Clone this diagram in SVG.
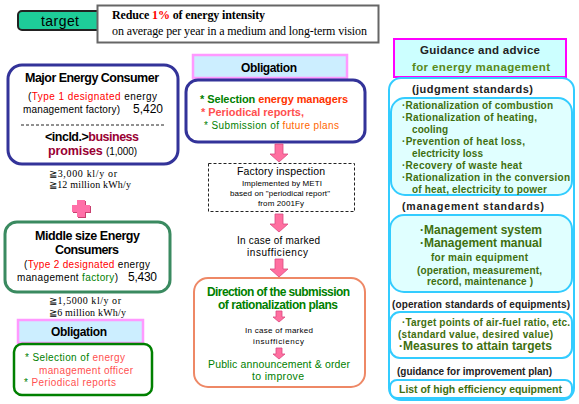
<svg xmlns="http://www.w3.org/2000/svg" width="579" height="404" viewBox="0 0 579 404">
<defs>
<style>
.s{font-family:"Liberation Sans",Arial,sans-serif}
.r{font-family:"Liberation Serif","Times New Roman",serif}
.b{font-weight:bold}
.m{text-anchor:middle}
.g{fill:#008000}
.pr{fill:#FF5050}
.gg{fill:#3F6F0F;font-weight:bold}
.arrow{fill:#FF6FA0;stroke:#D94A80;stroke-width:0.8}
.cy{stroke:#33CCFF;stroke-width:2}
</style>
<path id="arr" d="M-4,0 H4 V10 H9 L0,18 L-9,10 H-4 Z"/>
<path id="arrs" d="M-3,0 H3 V6 H6 L0,11 L-6,6 H-3 Z"/>
</defs>

<g id="target">
<rect x="18" y="11" width="84" height="19" rx="4" fill="#1ECC99" stroke="#222" stroke-width="2"/>
<text x="60" y="25.5" class="s m" font-size="14" textLength="38">target</text>
</g>

<g id="goal">
<rect x="97.5" y="5.5" width="281" height="37" fill="#fff" stroke="#666" stroke-width="2"/>
<text x="112" y="19" class="r b" font-size="12" textLength="153">Reduce <tspan fill="#FF0000">1%</tspan> of energy intensity</text>
<text x="112" y="35" class="r" font-size="12" textLength="255">on average per year in a medium and long-term vision</text>
</g>

<g id="major">
<rect x="8" y="65" width="170" height="99" rx="14" fill="#fff" stroke="#333399" stroke-width="3"/>
<text x="92" y="82" class="s b m" font-size="12.5" textLength="134">Major Energy Consumer</text>
<text x="92.5" y="100" class="s m" font-size="10" textLength="129">(<tspan fill="#FF0000">Type 1 designated</tspan> energy</text>
<text x="23" y="113" class="s" font-size="10" textLength="97">management factory)</text>
<text x="133" y="113" class="s" font-size="12" textLength="30">5,420</text>
<line x1="21" y1="125" x2="165" y2="125" stroke="#222" stroke-dasharray="3,2"/>
<text x="45" y="141" class="s b" font-size="12.5" textLength="94">&lt;incld.&gt;<tspan fill="#990033">business</tspan></text>
<text x="48" y="155" class="s" font-size="12.5" textLength="89"><tspan class="b" fill="#990033">promises</tspan> <tspan font-size="10">(1,000)</tspan></text>
</g>

<g id="major-threshold">
<text x="49" y="177" class="r" font-size="10" textLength="68">≧3,000 kl/y  or</text>
<text x="49" y="188" class="r" font-size="10" textLength="82">≧12 million kWh/y</text>
</g>

<g id="plus">
<path d="M77,200 H85 V205 H90 V212 H85 V217 H77 V212 H72 V205 H77 Z" fill="#C8406F" transform="translate(1,1)"/>
<path d="M77,200 H85 V205 H90 V212 H85 V217 H77 V212 H72 V205 H77 Z" fill="#FF6FA8"/>
</g>

<g id="middle">
<rect x="5" y="222" width="165" height="70" rx="12" fill="#fff" stroke="#3A8A60" stroke-width="3"/>
<text x="35" y="240" class="s b" font-size="12.5" textLength="105">Middle size Energy</text>
<text x="55" y="254" class="s b" font-size="12.5" textLength="64">Consumers</text>
<text x="24" y="268" class="s" font-size="10" textLength="126">(<tspan fill="#FF0000">Type 2 designated</tspan> energy</text>
<text x="17" y="281" class="s" font-size="10" textLength="101">management <tspan fill="#008000">factory</tspan>)</text>
<text x="128" y="281" class="s" font-size="12" textLength="29">5,430</text>
</g>

<g id="middle-threshold">
<text x="49" y="304" class="r" font-size="10" textLength="72">≧1,5000 kl/y  or</text>
<text x="49" y="316" class="r" font-size="10" textLength="77">≧6 million kWh/y</text>
</g>

<g id="obligation-small">
<rect x="18" y="320" width="125" height="23" fill="#CCEEFF" stroke="#FF99FF" stroke-width="2.5"/>
<text x="51" y="336" class="s b" font-size="12" textLength="56">Obligation</text>
</g>

<g id="obligation-small-body">
<rect x="14" y="344" width="138" height="51" rx="8" fill="#fff" stroke="#008000" stroke-width="2.5"/>
<text x="25" y="361" class="s" font-size="10" textLength="100"><tspan fill="#008000">* Selection of </tspan><tspan fill="#FF5050">energy</tspan></text>
<text x="39" y="374" class="s pr" font-size="10" textLength="94">management officer</text>
<text x="24" y="386" class="s" font-size="10" textLength="92"><tspan fill="#008000">* </tspan><tspan fill="#FF5050">Periodical reports</tspan></text>
</g>

<g id="obligation-main">
<rect x="193" y="55" width="154" height="23" fill="#CCEEFF" stroke="#FF99FF" stroke-width="2.5"/>
<text x="241" y="72" class="s b" font-size="12" textLength="56">Obligation</text>
</g>

<g id="obligation-main-body">
<rect x="186" y="80" width="179" height="62" rx="12" fill="#fff" stroke="#333399" stroke-width="3"/>
<text x="200" y="103" class="s b" font-size="11" textLength="148"><tspan fill="#008000">* Selection </tspan><tspan fill="#FF3300">energy managers</tspan></text>
<text x="201" y="116" class="s b" font-size="11" fill="#FF5050" textLength="103">* Periodical reports,</text>
<text x="204" y="129" class="s" font-size="10" textLength="135"><tspan fill="#008000">* Submission of </tspan><tspan fill="#FF6600">future plans</tspan></text>
</g>

<g id="inspection">
<rect x="208.5" y="163.5" width="146" height="48" fill="#fff" stroke="#222" stroke-dasharray="3,2"/>
<text x="237" y="175" class="s" font-size="10.5" textLength="88">Factory inspection</text>
<text x="242" y="186" class="s" font-size="8" textLength="80">Implemented by METI</text>
<text x="230" y="196" class="s" font-size="8" textLength="100">based on "periodical report"</text>
<text x="258" y="206" class="s" font-size="8" textLength="46">from 2001Fy</text>
</g>

<g id="insufficiency">
<text x="237" y="244" class="s" font-size="10" textLength="83">In case of marked</text>
<text x="247" y="256" class="s" font-size="10" textLength="61">insufficiency</text>
</g>

<g id="direction">
<rect x="194" y="278" width="171" height="109" rx="14" fill="#fff" stroke="#EE8866" stroke-width="2"/>
<text x="207" y="296" class="s b g" font-size="12" textLength="143">Direction of the submission</text>
<text x="218" y="309" class="s b g" font-size="12" textLength="120">of rationalization plans</text>
<text x="245" y="333" class="s" font-size="8" textLength="68">In case of marked</text>
<text x="253" y="344" class="s" font-size="8" textLength="51">insufficiency</text>
<text x="208" y="368" class="s g" font-size="10.5" textLength="142">Public announcement &amp; order</text>
<text x="252" y="380" class="s g" font-size="10.5" textLength="52">to improve</text>
</g>

<g id="connectors">
<use href="#arr" class="arrow" x="279" y="144"/>
<use href="#arr" class="arrow" x="279" y="214"/>
<use href="#arr" class="arrow" x="279" y="259"/>
<use href="#arrs" class="arrow" x="279" y="311"/>
<use href="#arrs" class="arrow" x="279" y="348"/>
</g>

<g id="guidance">
<rect x="394" y="39" width="172" height="38" fill="#CCFFFF" stroke="#FF00FF" stroke-width="2"/>
<text x="420" y="54" class="s b" font-size="11.5" fill="#222" textLength="120">Guidance and advice</text>
<text x="412" y="71" class="s b" font-size="11.5" fill="#5A8A1A" textLength="138">for energy management</text>
</g>

<g id="standards">
<rect x="389" y="78" width="185" height="322" rx="12" fill="#fff" class="cy"/>
<text x="412" y="93" class="s b" font-size="11" fill="#222" textLength="121">(judgment standards)</text>
<rect x="391" y="98" width="181" height="97" rx="14" fill="#E0FFFF" class="cy"/>
<text x="402" y="109" class="s gg" font-size="10" textLength="151">·Rationalization of combustion</text>
<text x="402" y="121" class="s gg" font-size="10" textLength="135">·Rationalization of heating,</text>
<text x="412" y="133" class="s gg" font-size="10" textLength="36">cooling</text>
<text x="402" y="145" class="s gg" font-size="10" textLength="123">·Prevention of heat loss,</text>
<text x="412" y="157" class="s gg" font-size="10" textLength="71">electricity loss</text>
<text x="402" y="169" class="s gg" font-size="10" textLength="120">·Recovery of waste heat</text>
<text x="402" y="181" class="s gg" font-size="10" textLength="168">·Rationalization in the conversion</text>
<text x="412" y="193" class="s gg" font-size="10" textLength="135">of heat, electricity to power</text>

<text x="402" y="210" class="s b" font-size="10.5" fill="#222" textLength="142">(management standards)</text>
<rect x="390" y="215" width="182" height="77" rx="14" fill="#E0FFFF" class="cy"/>
<text x="420" y="234" class="s gg" font-size="12" textLength="122">·Management system</text>
<text x="420" y="247" class="s gg" font-size="12" textLength="122">·Management manual</text>
<text x="431" y="261" class="s gg" font-size="10" textLength="97">for main equipment</text>
<text x="417" y="274" class="s gg" font-size="10" textLength="125">(operation, measurement,</text>
<text x="427" y="285" class="s gg" font-size="10" textLength="106">record, maintenance )</text>

<text x="392" y="308" class="s b" font-size="10" fill="#222" textLength="178">(operation standards of equipments)</text>
<rect x="390" y="312" width="182" height="46" rx="10" fill="#fff" class="cy"/>
<text x="402" y="326" class="s gg" font-size="10" textLength="168">·Target points of air-fuel ratio, etc.</text>
<text x="398" y="338" class="s gg" font-size="10" textLength="155">(standard value, desired value)</text>
<text x="399" y="350" class="s gg" font-size="12" textLength="153">·Measures to attain targets</text>

<text x="397" y="375" class="s b" font-size="10" fill="#222" textLength="155">(guidance for improvement plan)</text>
<rect x="390" y="380" width="182" height="18" rx="7" fill="#fff" class="cy"/>
<text x="399" y="393" class="s gg" font-size="10.5" textLength="163">List of high efficiency equipment</text>
</g>
</svg>
